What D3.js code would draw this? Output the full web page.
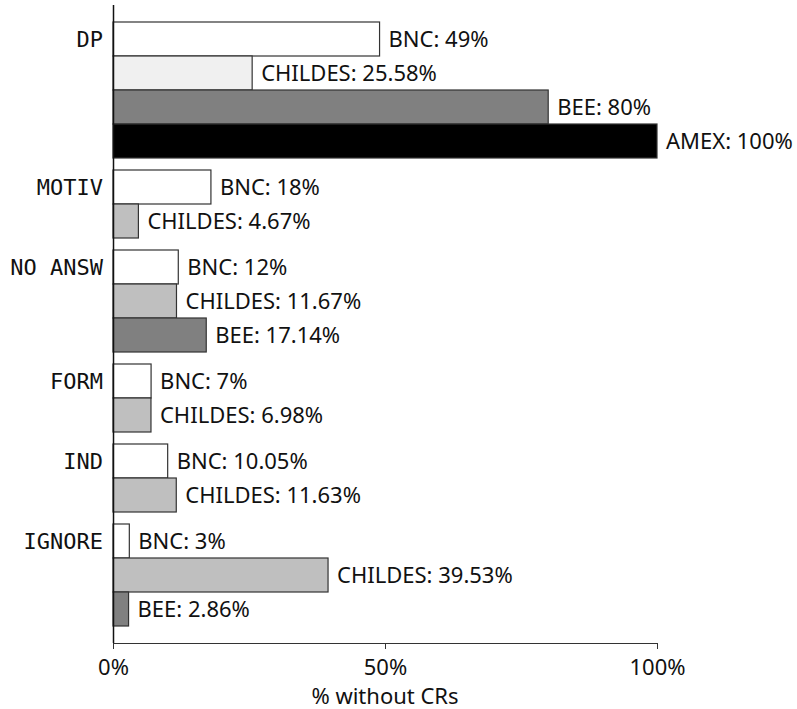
<!DOCTYPE html>
<html>
<head>
<meta charset="utf-8">
<script src="https://cdn.jsdelivr.net/npm/d3@7"></script>
<style>
  body { margin: 0; background: #fff; }
  .lbl { font-family: "Noto Sans", sans-serif; font-size: 22px; fill: #111; }
  .cat { font-family: "DejaVu Sans Mono", monospace; font-size: 22px; fill: #111; }
</style>
</head>
<body>
<div id="chart"></div>
<script>
// --------------------------------------------------
// data
var categories = ["DP", "MOTIV", "NO ANSW", "FORM", "IND", "IGNORE"];
var seriesNames = ["BNC", "CHILDES", "BEE", "AMEX"];
var bnc     = [49, 18, 12, 7, 10.05, 3];
var childes = [25.58, 4.67, 11.67, 6.98, 11.63, 39.53];
var bee     = [80, null, 17.14, null, null, 2.86];
var amex    = [100, null, null, null, null, null];
var xTicks  = [0, 50, 100];

var fills = { BNC: "#ffffff", CHILDES: "#bfbfbf", BEE: "#808080", AMEX: "#000000" };

var width = 797, height = 709;
var margin = { left: 113, right: 140, top: 5, bottom: 66 };
var innerW = width - margin.left - margin.right;   // 544
var innerH = height - margin.top - margin.bottom;  // 638

// flatten into rows, one per bar
var seriesVals = [bnc, childes, bee, amex];
var gapUnits = 12 / 34;
var rows = [];
var unit = 0;
categories.forEach(function(c, ci) {
    if (ci > 0) unit += gapUnits;
    var first = true;
    seriesNames.forEach(function(s, si) {
        var v = seriesVals[si][ci];
        if (v === null) return;
        rows.push({ cat: c, series: s, value: v, pos: unit, first: first, ci: ci });
        first = false;
        unit += 1;
    });
});
var totalUnits = unit;

var svg = d3.select("#chart")
    .append("svg")
    .attr("width", width)
    .attr("height", height);

var g = svg.append("g")
    .attr("transform", "translate(" + margin.left + ", " + margin.top + ")");

var x = d3.scaleLinear()
    .domain([0, 100])
    .range([0, innerW]);

// bars sit between 17px from top and 17px from the axis
var y = d3.scaleLinear()
    .domain([0, totalUnits])
    .range([17, innerH - 17]);
var barH = y(1) - y(0);

// bars
g.selectAll("rect.bar")
    .data(rows)
    .enter()
    .append("rect")
    .attr("class", "bar")
    .attr("x", x(0))
    .attr("y", function(d) { return y(d.pos); })
    .attr("width", function(d) { return x(d.value) - x(0); })
    .attr("height", barH)
    .attr("fill", function(d) {
        // DP's CHILDES bar is drawn lighter in the original
        if (d.cat === "DP" && d.series === "CHILDES") return "#f0f0f0";
        return fills[d.series];
    })
    .attr("stroke", "#333")
    .attr("stroke-width", 1.2);

// value labels
g.selectAll("text.lbl")
    .data(rows)
    .enter()
    .append("text")
    .attr("class", "lbl")
    .attr("x", function(d) { return x(d.value) + 9; })
    .attr("y", function(d) { return y(d.pos) + barH / 2; })
    .attr("dy", "0.36em")
    .text(function(d) { return d.series + ": " + d.value + "%"; });

// category labels, beside the first bar of each group
g.selectAll("text.cat")
    .data(rows.filter(function(d) { return d.first; }))
    .enter()
    .append("text")
    .attr("class", "cat")
    .attr("x", -10)
    .attr("y", function(d) { return y(d.pos) + barH / 2; })
    .attr("dy", "0.36em")
    .attr("text-anchor", "end")
    .text(function(d) { return d.cat; });

// y axis line only
g.append("line")
    .attr("x1", 0.5).attr("x2", 0.5)
    .attr("y1", 0).attr("y2", innerH)
    .attr("stroke", "#111")
    .attr("stroke-width", 1.5);

// x axis
var xAxisCall = d3.axisBottom(x)
    .tickValues(xTicks)
    .tickSize(6)
    .tickPadding(10)
    .tickFormat(function(d) { return d + "%"; });
var xa = g.append("g")
    .attr("class", "x-axis")
    .attr("transform", "translate(0, " + innerH + ")")
    .call(xAxisCall);
xa.select(".domain").attr("stroke", "#333");
xa.selectAll(".tick line").attr("stroke", "#333");
xa.selectAll("text")
    .attr("font-family", "Noto Sans, sans-serif")
    .attr("font-size", "22px")
    .attr("fill", "#111");

// x label
g.append("text")
    .attr("class", "lbl")
    .attr("x", x(50))
    .attr("y", innerH + 61)
    .attr("text-anchor", "middle")
    .text("% without CRs");
</script>
</body>
</html>
